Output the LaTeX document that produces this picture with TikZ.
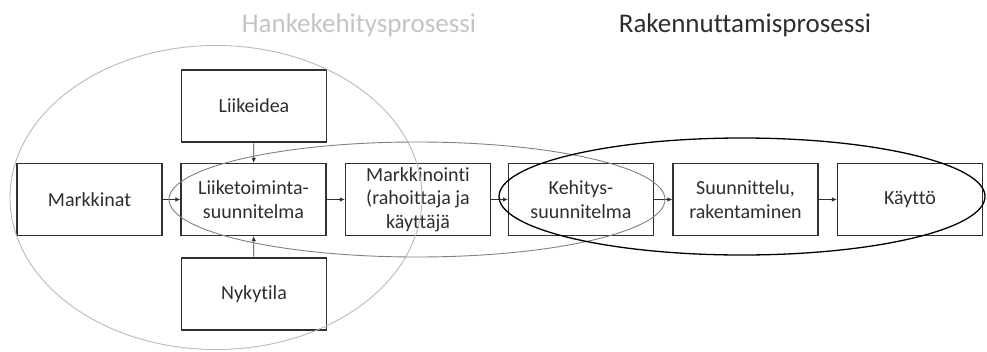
\documentclass[tikz,border=0pt]{standalone}
\usepackage{fontspec}
\setmainfont{Carlito}[Ligatures=NoCommon]
\usetikzlibrary{arrows.meta}
\definecolor{boxline}{HTML}{303030}
\definecolor{txt}{HTML}{2E2E2E}
\definecolor{paletitle}{HTML}{C4C4C4}
\definecolor{ringgray}{HTML}{A8A8A8}
\begin{document}
\begin{tikzpicture}[x=1pt,y=-1pt,
  stepbox/.style={draw=boxline,line width=1.4pt,fill=white,minimum width=145pt,
    minimum height=72pt,inner sep=0pt,align=center,text=txt,
    font=\fontsize{20}{23.5}\selectfont},
  flow/.style={-{Latex[length=5pt,width=4.5pt]},line width=0.6pt,draw=boxline},
  phase/.style={font=\fontsize{27}{30}\selectfont}]
\useasboundingbox (0,0) rectangle (987,351);

% phase titles
\node[phase,text=paletitle] (hanke) at (359,25) {Hankekehitysprosessi};
\node[phase,text=txt] (rakennutus) at (745,25) {Rakennuttamisprosessi};

% process boxes
\node[stepbox] (markkinat) at (89.5,199.5) {Markkinat};
\node[stepbox] (liiketoim) at (253.5,199.5) {Liiketoiminta-\\suunnitelma};
\node[stepbox] (liikeidea) at (254,106) {Liikeidea};
\node[stepbox] (nykytila) at (254,294) {Nykytila};
\node[stepbox] (markkinointi) at (418,199.5) {Markkinointi\\(rahoittaja ja\\käyttäjä};
\node[stepbox] (kehitys) at (581,199.5) {Kehitys-\\suunnitelma};
\node[stepbox] (suunnittelu) at (745.5,199.5) {Suunnittelu,\\rakentaminen};
\node[stepbox] (kaytto) at (910,199.5) {Käyttö};

% connectors
\draw[flow] (markkinat) -- (liiketoim);
\draw[flow] (liiketoim) -- (markkinointi);
\draw[flow] (markkinointi) -- (kehitys);
\draw[flow] (kehitys) -- (suunnittelu);
\draw[flow] (suunnittelu) -- (kaytto);
\draw[flow] (liikeidea) -- (liiketoim);
\draw[flow] (nykytila) -- (liiketoim);

% process scopes
\draw[ringgray!80,line width=0.9pt] (216,197.5) ellipse [x radius=206,y radius=152];
\draw[gray,line width=0.9pt] (417,199.5) ellipse [x radius=248,y radius=57.5];
\draw[black,line width=1.3pt] (742,196.5) ellipse [x radius=243,y radius=58.5];
\end{tikzpicture}
\end{document}
